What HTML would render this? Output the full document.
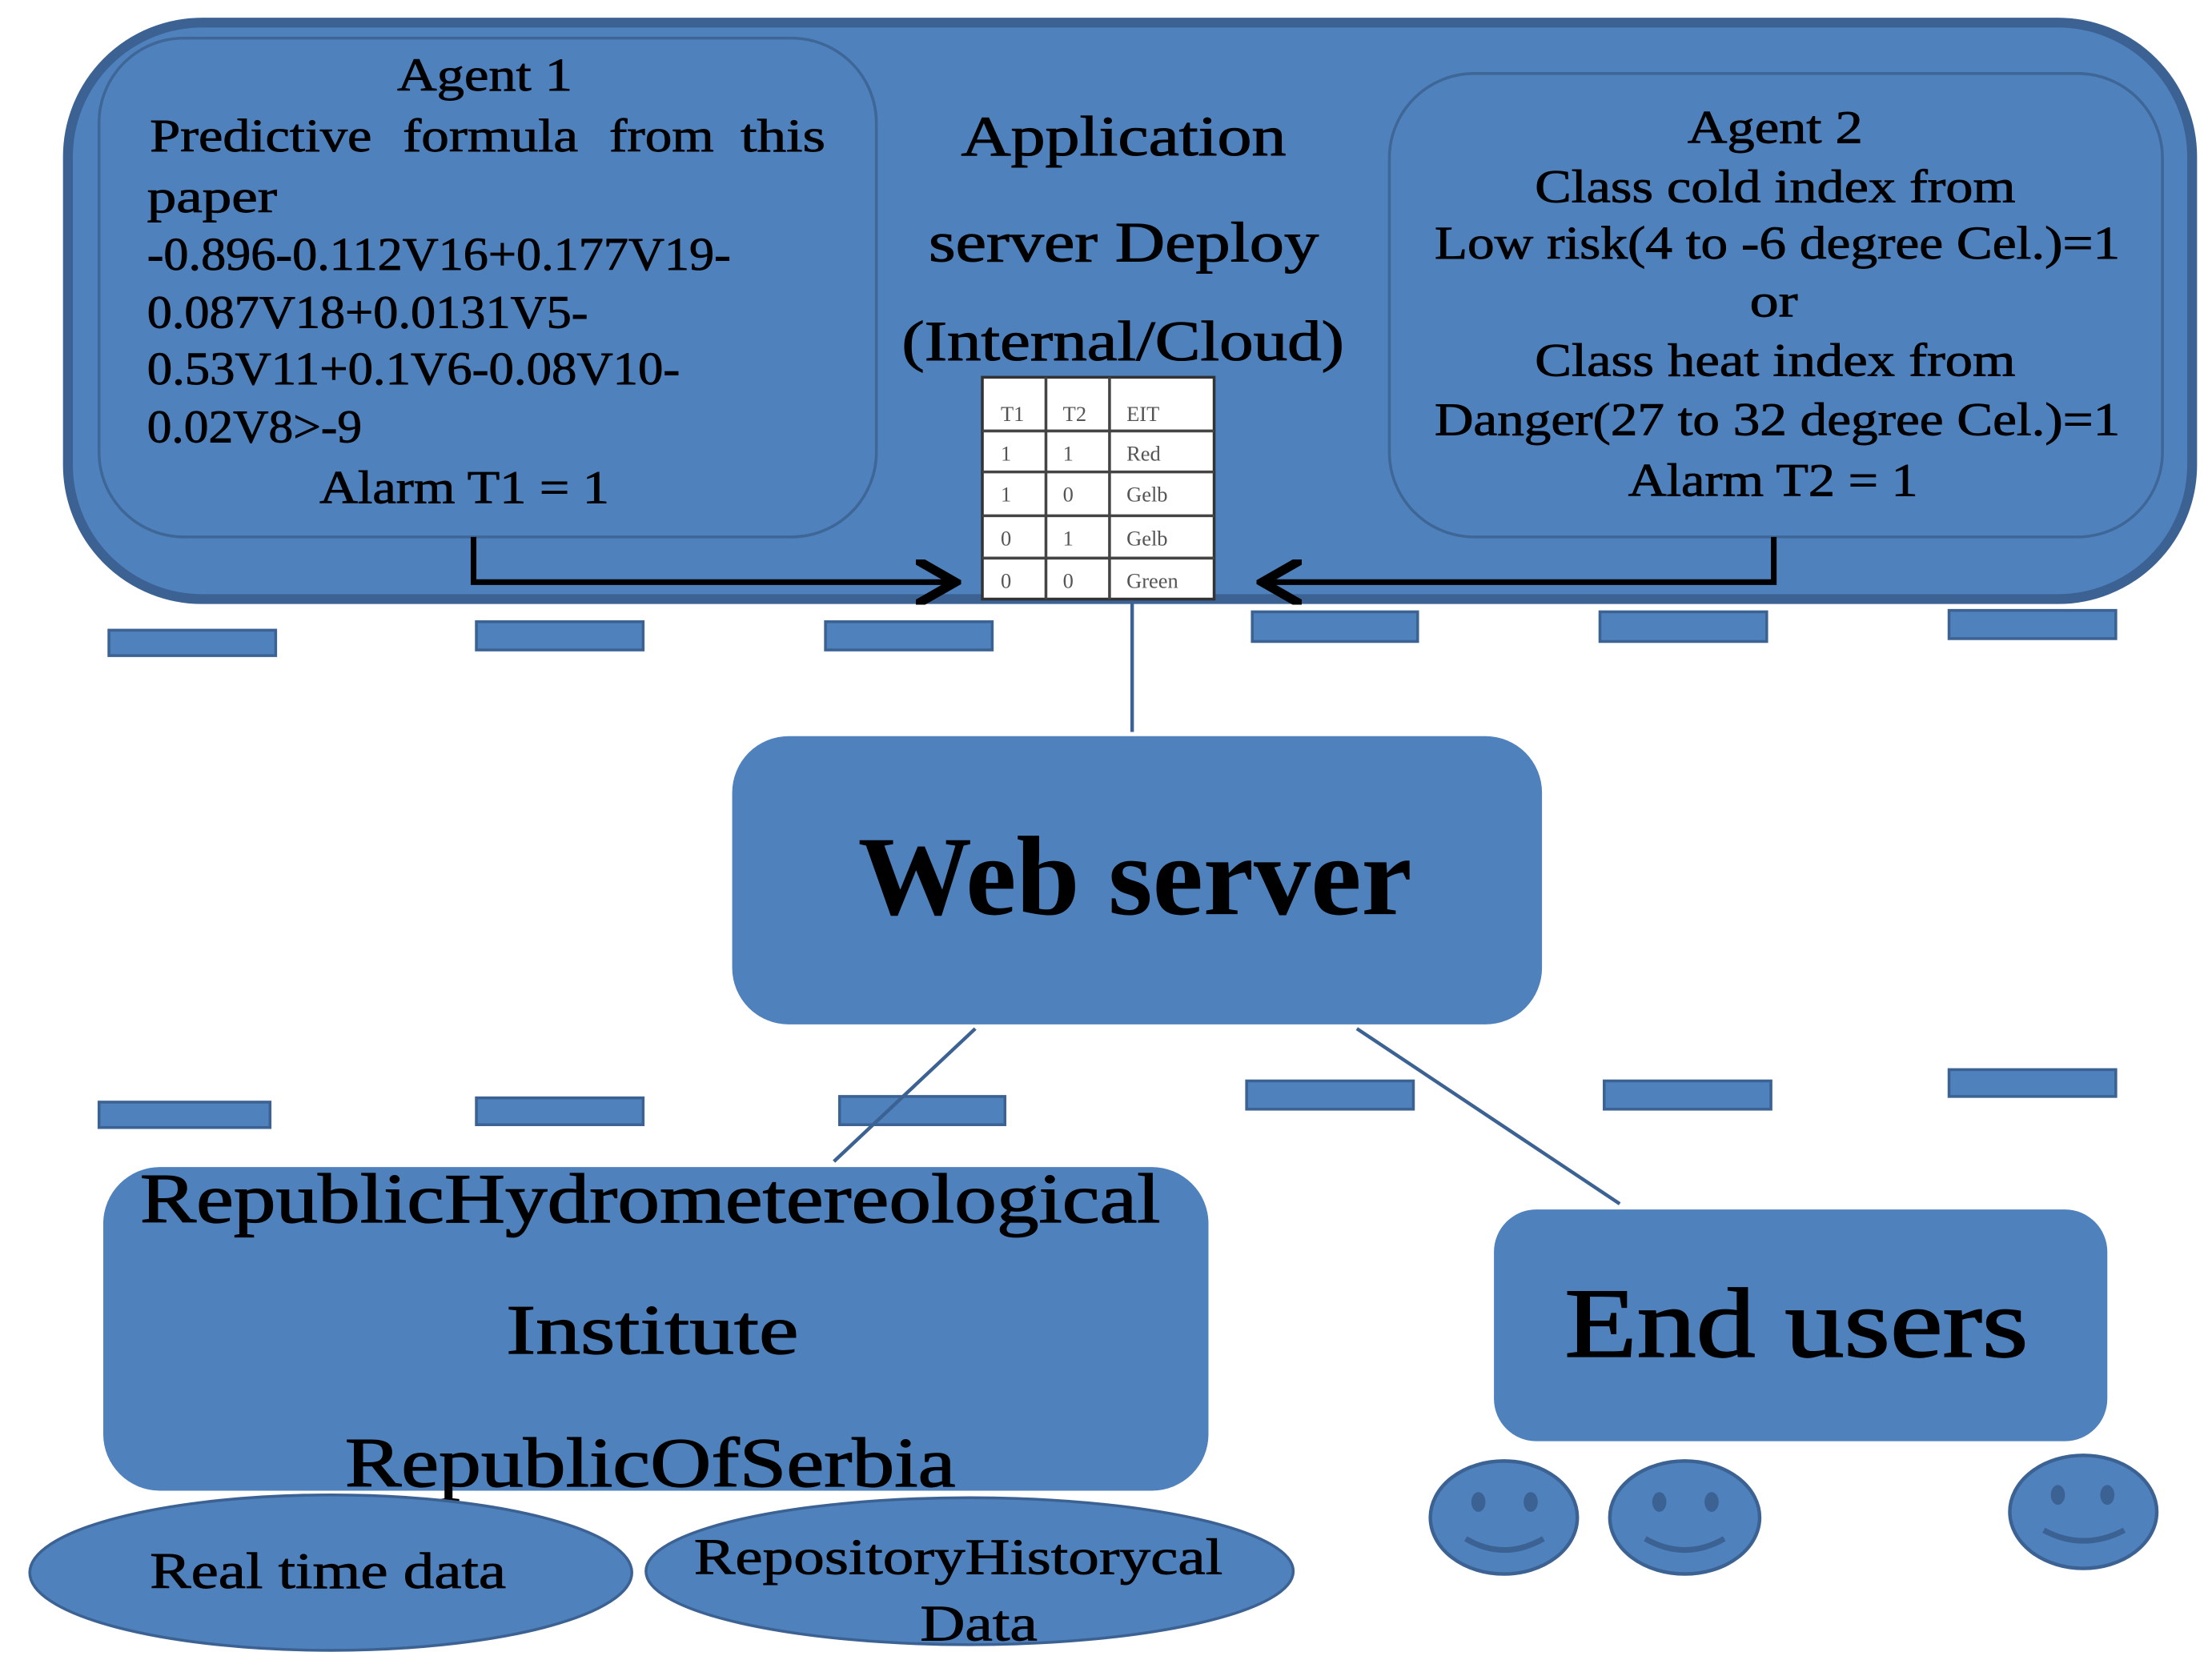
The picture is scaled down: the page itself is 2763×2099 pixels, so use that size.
<!DOCTYPE html>
<html><head><meta charset="utf-8"><style>html,body{margin:0;padding:0;background:#fff}svg{display:block}</style></head>
<body>
<svg width="2763" height="2099" viewBox="0 0 1565 1189" xmlns="http://www.w3.org/2000/svg" font-family="'Liberation Serif', serif">
<defs><marker id="ah" markerWidth="8" markerHeight="8" refX="6" refY="4" orient="auto" markerUnits="strokeWidth"><path d="M0,0 L7,4 L0,8" fill="none" stroke="#000" stroke-width="1.6"/></marker></defs>
<rect x="48" y="16" width="1503" height="408" rx="95" fill="#4f81bd" stroke="#3b6292" stroke-width="7"/>
<rect x="70" y="27" width="550" height="353" rx="60" fill="#4f81bd" stroke="#3e6696" stroke-width="2"/>
<rect x="983" y="52" width="547" height="328" rx="60" fill="#4f81bd" stroke="#3e6696" stroke-width="2"/>
<g font-size="33" fill="#000" stroke="#000" stroke-width="0.5" lengthAdjust="spacingAndGlyphs">
<text x="281" y="64" textLength="124" lengthAdjust="spacingAndGlyphs">Agent 1</text>
<text x="106" y="107" textLength="157" lengthAdjust="spacingAndGlyphs">Predictive</text><text x="285" y="107" textLength="124" lengthAdjust="spacingAndGlyphs">formula</text><text x="431" y="107" textLength="74" lengthAdjust="spacingAndGlyphs">from</text><text x="524" y="107" textLength="60" lengthAdjust="spacingAndGlyphs">this</text>
<text x="104" y="150" textLength="92" lengthAdjust="spacingAndGlyphs">paper</text>
<text x="104" y="191" textLength="413" lengthAdjust="spacingAndGlyphs">-0.896-0.112V16+0.177V19-</text>
<text x="104" y="232" textLength="312" lengthAdjust="spacingAndGlyphs">0.087V18+0.0131V5-</text>
<text x="104" y="272" textLength="377" lengthAdjust="spacingAndGlyphs">0.53V11+0.1V6-0.08V10-</text>
<text x="104" y="313" textLength="152" lengthAdjust="spacingAndGlyphs">0.02V8&gt;-9</text>
<text x="226" y="356" textLength="205" lengthAdjust="spacingAndGlyphs">Alarm T1 = 1</text>
<text x="1194" y="101" textLength="124" lengthAdjust="spacingAndGlyphs">Agent 2</text>
<text x="1086" y="143" textLength="340" lengthAdjust="spacingAndGlyphs">Class cold index  from</text>
<text x="1015" y="183" textLength="485" lengthAdjust="spacingAndGlyphs">Low risk(4 to -6 degree Cel.)=1</text>
<text x="1238" y="224" textLength="34" lengthAdjust="spacingAndGlyphs">or</text>
<text x="1086" y="266" textLength="340" lengthAdjust="spacingAndGlyphs">Class heat index from</text>
<text x="1015" y="308" textLength="485" lengthAdjust="spacingAndGlyphs">Danger(27 to 32 degree Cel.)=1</text>
<text x="1152" y="351" textLength="205" lengthAdjust="spacingAndGlyphs">Alarm T2 = 1</text>
</g>
<g font-size="40" fill="#000" stroke="#000" stroke-width="0.6">
<text x="680" y="110" textLength="230" lengthAdjust="spacingAndGlyphs">Application</text>
<text x="657" y="185" textLength="276" lengthAdjust="spacingAndGlyphs">server Deploy</text>
<text x="638" y="255" textLength="313" lengthAdjust="spacingAndGlyphs">(Internal/Cloud)</text>
</g>
<rect x="695" y="267" width="164" height="157" fill="#fff" stroke="#333" stroke-width="2"/>
<g stroke="#444" stroke-width="2"><line x1="740" y1="267" x2="740" y2="424"/><line x1="785" y1="267" x2="785" y2="424"/>
<line x1="695" y1="305" x2="859" y2="305"/><line x1="695" y1="334" x2="859" y2="334"/><line x1="695" y1="365" x2="859" y2="365"/><line x1="695" y1="395" x2="859" y2="395"/></g>
<g font-size="15" fill="#555">
<text x="708" y="298">T1</text><text x="752" y="298">T2</text><text x="797" y="298">EIT</text>
<text x="708" y="326">1</text><text x="752" y="326">1</text><text x="797" y="326">Red</text>
<text x="708" y="355">1</text><text x="752" y="355">0</text><text x="797" y="355">Gelb</text>
<text x="708" y="386">0</text><text x="752" y="386">1</text><text x="797" y="386">Gelb</text>
<text x="708" y="416">0</text><text x="752" y="416">0</text><text x="797" y="416">Green</text>
</g>
<path d="M335,380 V412 H672" fill="none" stroke="#000" stroke-width="4" marker-end="url(#ah)"/>
<path d="M1255,380 V412 H897" fill="none" stroke="#000" stroke-width="4" marker-end="url(#ah)"/>
<g fill="#4f81bd" stroke="#3b6292" stroke-width="2">
<rect x="77" y="446" width="118" height="18"/><rect x="337" y="440" width="118" height="20"/><rect x="584" y="440" width="118" height="20"/>
<rect x="886" y="433" width="117" height="21"/><rect x="1132" y="433" width="118" height="21"/><rect x="1379" y="432" width="118" height="20"/>
<rect x="70" y="780" width="121" height="18"/><rect x="337" y="777" width="118" height="19"/><rect x="594" y="776" width="117" height="20"/>
<rect x="882" y="765" width="118" height="20"/><rect x="1135" y="765" width="118" height="20"/><rect x="1379" y="757" width="118" height="19"/>
</g>
<g stroke="#3b6292" stroke-width="2.5">
<line x1="801" y1="425" x2="801" y2="518"/>
<line x1="690" y1="728" x2="590" y2="822"/>
<line x1="960" y1="728" x2="1146" y2="852"/>
</g>
<rect x="518" y="521" width="573" height="204" rx="40" fill="#4f81bd"/>
<text x="607" y="647" textLength="392" lengthAdjust="spacingAndGlyphs" font-size="80" font-weight="bold" fill="#000">Web server</text>
<rect x="73" y="826" width="782" height="229" rx="40" fill="#4f81bd"/>
<g font-size="50" fill="#000" stroke="#000" stroke-width="0.7">
<text x="99" y="865" textLength="722" lengthAdjust="spacingAndGlyphs">RepublicHydrometereological</text>
<text x="358" y="958" textLength="207" lengthAdjust="spacingAndGlyphs">Institute</text>
<text x="244" y="1052" textLength="432" lengthAdjust="spacingAndGlyphs">RepublicOfSerbia</text>
</g>
<rect x="1057" y="856" width="434" height="164" rx="30" fill="#4f81bd"/>
<text x="1107" y="960" textLength="328" lengthAdjust="spacingAndGlyphs" font-size="70" fill="#000" stroke="#000" stroke-width="1">End users</text>
<g fill="#4f81bd" stroke="#3b6292" stroke-width="2">
<ellipse cx="234" cy="1113" rx="213" ry="55"/>
<ellipse cx="686" cy="1112" rx="229" ry="52"/>
</g>
<g font-size="36" fill="#000" stroke="#000" stroke-width="0.5">
<text x="106" y="1124" textLength="252" lengthAdjust="spacingAndGlyphs">Real time data</text>
<text x="491" y="1114" textLength="374" lengthAdjust="spacingAndGlyphs">RepositoryHistorycal</text>
<text x="651" y="1161" textLength="83" lengthAdjust="spacingAndGlyphs">Data</text>
</g>
<g fill="#4f81bd" stroke="#3b6292" stroke-width="2.5">
<ellipse cx="1064" cy="1074" rx="52" ry="40"/>
<ellipse cx="1192" cy="1074" rx="53" ry="40"/>
<ellipse cx="1474" cy="1070" rx="52" ry="40"/>
</g>
<g fill="#3b6292">
<ellipse cx="1046" cy="1063" rx="5" ry="7"/><ellipse cx="1083" cy="1063" rx="5" ry="7"/>
<ellipse cx="1174" cy="1063" rx="5" ry="7"/><ellipse cx="1211" cy="1063" rx="5" ry="7"/>
<ellipse cx="1456" cy="1058" rx="5" ry="7"/><ellipse cx="1491" cy="1058" rx="5" ry="7"/>
</g>
<g fill="none" stroke="#3b6292" stroke-width="4">
<path d="M1037,1089 Q1064,1105 1092,1089"/>
<path d="M1164,1089 Q1192,1105 1220,1089"/>
<path d="M1446,1083 Q1474,1098 1503,1083"/>
</g>
</svg>
</body></html>
